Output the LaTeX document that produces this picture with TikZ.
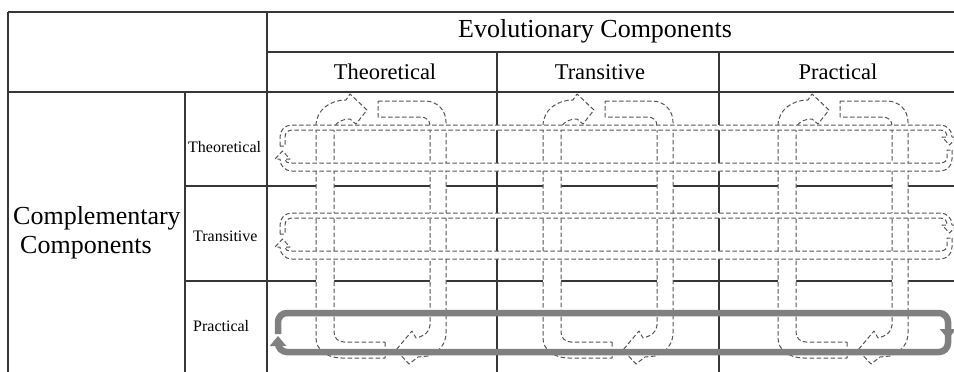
\documentclass[tikz,border=0pt]{standalone}
\usepackage{fontspec}
\setmainfont{Liberation Serif}
\usetikzlibrary{arrows.meta}
\definecolor{tline}{RGB}{55,55,55}
\definecolor{dline}{RGB}{85,85,85}
\definecolor{garrow}{RGB}{128,128,128}
\begin{document}
\begin{tikzpicture}[x=1pt,y=-1pt,
  tab/.style={draw=tline,line width=1.4pt},
  band/.style={draw=dline,fill=white,line width=1pt,dash pattern=on 4.5pt off 2.5pt,line join=round},
  garr/.style={draw=garrow,line width=6.5pt,rounded corners=9pt,-{Triangle[width=16pt,length=10pt]}},
  big/.style={font=\fontsize{26}{30}\selectfont},
  mid/.style={font=\fontsize{22.5}{26}\selectfont},
  small/.style={font=\fontsize{16}{19}\selectfont}]
\useasboundingbox (0,0) rectangle (954,372);
\clip (0,0) rectangle (954,372);
\fill[white] (0,0) rectangle (954,372);
% table
\draw[tab] (8,12) -- (954,12);
\draw[tab] (8,12) -- (8,372);
\draw[tab] (267,52) -- (954,52);
\draw[tab] (8,92) -- (954,92);
\draw[tab] (267,12) -- (267,372);
\draw[tab] (185,92) -- (185,372);
\draw[tab] (497,52) -- (497,372);
\draw[tab] (719,52) -- (719,372);
\draw[tab] (185,186) -- (954,186);
\draw[tab] (185,281) -- (954,281);
% texts
\node[big,anchor=base] (evo) at (595,37.5) {Evolutionary Components};
\node[mid,anchor=base] (ht) at (385,79.5) {Theoretical};
\node[mid,anchor=base] (htr) at (600,79.5) {Transitive};
\node[mid,anchor=base] (hp) at (838,79.5) {Practical};
\node[big,anchor=base west,inner sep=0pt] (comp1) at (13,224) {Complementary};
\node[big,anchor=base west,inner sep=0pt] (comp2) at (20,253.5) {Components};
\node[small,anchor=base west,inner sep=0pt] (rt) at (188,152) {Theoretical};
\node[small,anchor=base west,inner sep=0pt] (rtr) at (193,241.5) {Transitive};
\node[small,anchor=base west,inner sep=0pt] (rp) at (193,331.5) {Practical};
% vertical loops
\foreach \dx in {0,227,462}{
\begin{scope}[xshift=\dx]
\path[band] (378,101) -- (425,101) .. controls (437,101) and (446,110) .. (446,122)
  -- (446,333) .. controls (446,343) and (440,352) .. (428,356) -- (418,357)
  -- (409,364) -- (396,350) -- (412,331) -- (416,338)
  .. controls (424,336) and (430,332) .. (430,325) -- (430,126)
  .. controls (430,120) and (426,117) .. (420,117) -- (378,117) -- cycle;
\path[band] (385,342) -- (385,358) -- (342,358) .. controls (327,358) and (316,350) .. (316,338)
  -- (316,126) .. controls (316,110) and (330,100) .. (346,100)
  -- (350,94) -- (367,110) -- (356,124) -- (350,119)
  .. controls (342,119) and (334,123) .. (334,130) -- (334,332)
  .. controls (334,338) and (338,342) .. (344,342) -- cycle;
\end{scope}}
% horizontal loops
\foreach \dy in {0,88}{
\begin{scope}[yshift=-\dy]
\path[band] (280,146) -- (280,137) .. controls (280,130) and (285,125) .. (292,125)
  -- (940,125) .. controls (947,125) and (952,130) .. (952,137)
  -- (957,137) -- (949.5,145) -- (942,137) -- (947,137)
  .. controls (947,133) and (945,130) .. (940,130) -- (292,130)
  .. controls (288,130) and (285,133) .. (285,137) -- (285,146) -- cycle;
\path[band] (952,150) -- (952,159) .. controls (952,166) and (947,171) .. (940,171)
  -- (292,171) .. controls (285,171) and (280,166) .. (280,159)
  -- (275,159) -- (282.5,151) -- (290,159) -- (285,159)
  .. controls (285,162) and (287,163) .. (292,163) -- (940,163)
  .. controls (944,163) and (947,161) .. (947,158) -- (947,150) -- cycle;
\end{scope}}
% gray loop
\draw[garr] (948,330) -- (948,352) -- (278,352) -- (278,336);
\draw[garr] (278,334) -- (278,313) -- (948,313) -- (948,339);
\end{tikzpicture}
\end{document}
